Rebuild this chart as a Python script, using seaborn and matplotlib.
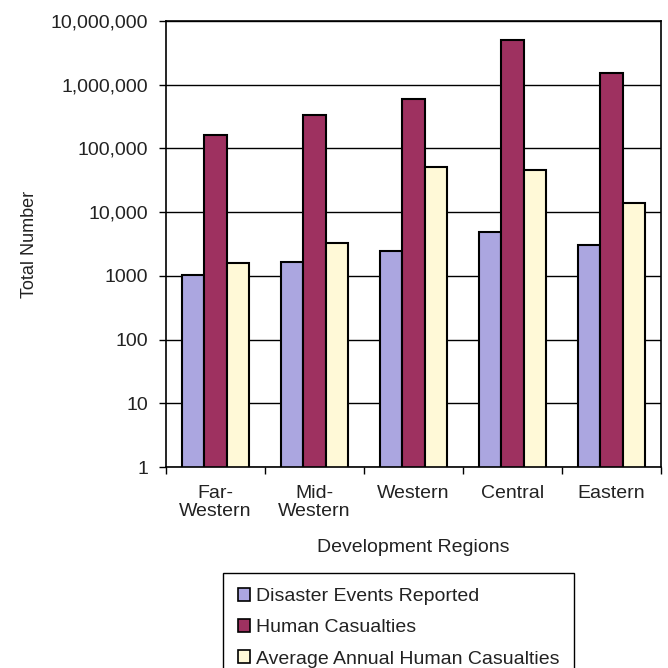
import numpy as np
import pandas as pd
import matplotlib
matplotlib.use("Agg")
import matplotlib.pyplot as plt
import seaborn as sns

regions = ["Far-\nWestern", "Mid-\nWestern", "Western", "Central", "Eastern"]
series_names = ["Disaster Events Reported", "Human Casualties", "Average Annual Human Casualties"]
disaster_events = [1040, 1640, 2500, 4960, 3100]
human_casualties = [162000, 333000, 588000, 4980000, 1530000]
avg_annual_casualties = [1580, 3260, 50900, 46300, 13700]
colors = ["#ABA6E0", "#9E3160", "#FFF9D7"]
ytick_vals = [1, 10, 100, 1000, 10000, 100000, 1000000, 10000000]
ytick_labels = ["1", "10", "100", "1000", "10,000", "100,000", "1,000,000", "10,000,000"]

df = pd.DataFrame({
    "Region": regions * 3,
    "Series": [series_names[0]] * 5 + [series_names[1]] * 5 + [series_names[2]] * 5,
    "Value": disaster_events + human_casualties + avg_annual_casualties,
})

sns.set_style("white")
plt.rcParams["font.family"] = ["Liberation Sans", "DejaVu Sans"]
plt.rcParams["text.color"] = "#222222"

fig = plt.figure(figsize=(6.68, 6.68), dpi=100)
ax = fig.add_axes([166 / 668, 1 - 467 / 668, (661 - 166) / 668, (467 - 21) / 668])

sns.barplot(data=df, x="Region", y="Value", hue="Series", palette=colors,
            saturation=1, edgecolor="black", linewidth=1.5, width=0.68, gap=0,
            errorbar=None, ax=ax)

ax.set_yscale("log")
ax.set_ylim(1, 1e7)
ax.set_xlim(-0.5, 4.5)
ax.set_yticks(ytick_vals)
ax.set_yticklabels(ytick_labels)
ax.yaxis.set_minor_locator(matplotlib.ticker.NullLocator())
ax.tick_params(axis="y", which="major", direction="out", length=5, width=1,
               color="black", left=True, pad=8, labelsize=14, labelcolor="#222222")

ax.set_xticks(range(len(regions)))
ax.set_xticklabels(regions, linespacing=1.05)
ax.set_xticks(np.arange(-0.5, 5.0, 1.0), minor=True)
ax.tick_params(axis="x", which="major", length=0, pad=13, labelsize=14, labelcolor="#222222")
ax.tick_params(axis="x", which="minor", direction="out", length=5, width=1,
               color="black", bottom=True)

ax.yaxis.grid(True, which="major", color="black", linewidth=1)
ax.set_axisbelow(True)
for s in ax.spines.values():
    s.set_visible(True)
    s.set_color("black")
    s.set_linewidth(1.2)

ax.set_xlabel("Development Regions", fontsize=14, labelpad=14, color="#222222")
ax.set_ylabel("Total Number", fontsize=13, labelpad=9, color="#222222")

handles, labels = ax.get_legend_handles_labels()
if ax.get_legend() is not None:
    ax.get_legend().remove()
leg = fig.legend(handles, labels, loc="upper left",
                 bbox_to_anchor=(223 / 668, 1 - 573 / 668),
                 bbox_transform=fig.transFigure,
                 fontsize=14, frameon=True, fancybox=False, shadow=False,
                 handlelength=0.65, handleheight=0.65, handletextpad=0.3,
                 labelspacing=0.72, borderpad=0.75, borderaxespad=0)
leg.get_frame().set_edgecolor("black")
leg.get_frame().set_linewidth(1)
leg.get_frame().set_alpha(1)
for h in leg.legend_handles:
    h.set_edgecolor("black")
    h.set_linewidth(1.2)

fig.savefig("out.png", dpi=100)
